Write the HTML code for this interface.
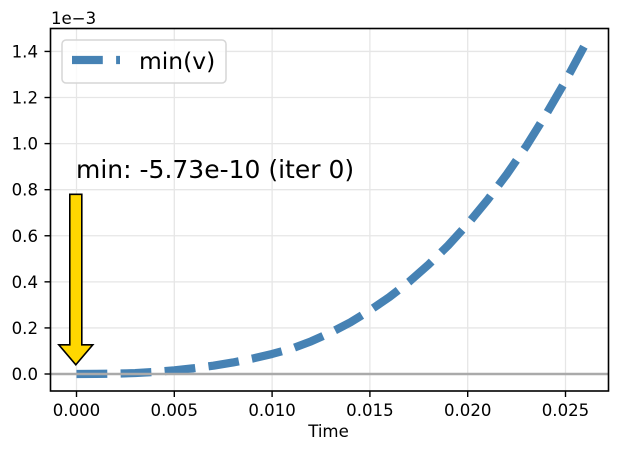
<!DOCTYPE html>
<html>
<head>
<meta charset="utf-8">
<style>
html,body{margin:0;padding:0;background:#fff;}
svg{display:block;}
text{font-family:"DejaVu Sans","Liberation Sans",sans-serif;fill:#000;}
</style>
</head>
<body>
<svg id="chart" xmlns="http://www.w3.org/2000/svg" width="623" height="451" viewBox="0 0 623 451"></svg>
<script>
const times = [0,0.001,0.002,0.003,0.004,0.005,0.006,0.007,0.008,0.009,0.01,0.011,0.012,0.013,0.014,0.015,0.016,0.017,0.018,0.019,0.02,0.021,0.022,0.023,0.024,0.025,0.026];
const minV = [0,0.0005,0.0015,0.004,0.009,0.016,0.025,0.036,0.05,0.067,0.087,0.11,0.142,0.18,0.224,0.276,0.334,0.4,0.475,0.558,0.651,0.754,0.867,0.99,1.126,1.272,1.43];
const xTicks = [0,0.005,0.01,0.015,0.02,0.025];
const xTickLabels = ["0.000","0.005","0.010","0.015","0.020","0.025"];
const yTicks = [0,0.2,0.4,0.6,0.8,1.0,1.2,1.4];
const yTickLabels = ["0.0","0.2","0.4","0.6","0.8","1.0","1.2","1.4"];
const seriesName = "min(v)";
const annotationText = "min: -5.73e-10 (iter 0)";
const arrowTarget = [0, 0.04];
const arrowStart = [0, 0.78];

const NS = "http://www.w3.org/2000/svg";
const svg = document.getElementById("chart");
const L = 50.5, R = 608.5, T = 28.5, B = 391;
const X = t => 76.5 + t * 19560;
const Y = v => 374 - v * 230.4;

function add(tag, attrs, parent) {
  const el = document.createElementNS(NS, tag);
  for (const k in attrs) el.setAttribute(k, attrs[k]);
  (parent || svg).appendChild(el);
  return el;
}

xTicks.forEach(function (t) {
  const g = add("line", {x1: X(t), x2: X(t), y1: T, y2: B, stroke: "#e6e6e6", "stroke-width": 1.3});
  
  
});
yTicks.forEach(function (v) {
  const g = add("line", {x1: L, x2: R, y1: Y(v), y2: Y(v), stroke: "#e6e6e6", "stroke-width": 1.3});
  
  
});

const curve = add("polyline", {
  points: times.map((t, i) => X(t) + "," + Y(minV[i])).join(" "),
  fill: "none", stroke: "#4682b4", "stroke-width": 8.2,
  "stroke-dasharray": "30.8 13.3", "stroke-linejoin": "round"
});



const zero = add("line", {x1: L, x2: R, y1: Y(0), y2: Y(0), stroke: "#aaaaaa", "stroke-width": 2.6});



const ax = X(arrowTarget[0]) - 0.7;
const tipY = Y(arrowTarget[1]);
const topY = Y(arrowStart[1]);
const arrow = add("polygon", {
  points: [[ax-6,topY],[ax+6,topY],[ax+6,tipY-20],[ax+17,tipY-20],[ax,tipY],[ax-17,tipY-20],[ax-6,tipY-20]].map(p => p.join(",")).join(" "),
  fill: "#ffd700", stroke: "#000", "stroke-width": 1.6
});



const note = add("text", {x: 76, y: 178, "font-size": 25});
note.textContent = annotationText;



const frame = add("rect", {x: L, y: T, width: R - L, height: B - T, fill: "none", stroke: "#000", "stroke-width": 1.6});



xTicks.forEach(function (t, i) {
  const m = add("line", {x1: X(t), x2: X(t), y1: B, y2: B + 6, stroke: "#000", "stroke-width": 1.4});
  
  
  const l = add("text", {x: X(t), y: 416, "font-size": 16.6, "text-anchor": "middle"});
  l.textContent = xTickLabels[i];
  
  
});
yTicks.forEach(function (v, i) {
  const m = add("line", {x1: L - 6, x2: L, y1: Y(v), y2: Y(v), stroke: "#000", "stroke-width": 1.4});
  
  
  const l = add("text", {x: 38, y: Y(v) + 6, "font-size": 16.6, "text-anchor": "end"});
  l.textContent = yTickLabels[i];
  
  
});

const xTitle = add("text", {x: 328.5, y: 437, "font-size": 16.6, "text-anchor": "middle"});
xTitle.textContent = "Time";



const offset = add("text", {x: 51, y: 24, "font-size": 16.6});
offset.textContent = "1e\u22123";



const legend = add("g", {});


const box = add("rect", {x: 62, y: 40, width: 164, height: 43, rx: 4, fill: "#fff", "fill-opacity": 0.8, stroke: "#d6d6d6", "stroke-width": 1.5}, legend);


const swatch = add("line", {x1: 72, x2: 120, y1: 60, y2: 60, stroke: "#4682b4", "stroke-width": 8.2, "stroke-dasharray": "30.8 13.3"}, legend);


const legendLabel = add("text", {x: 139, y: 69, "font-size": 23.4}, legend);
legendLabel.textContent = seriesName;


</script>
</body>
</html>
